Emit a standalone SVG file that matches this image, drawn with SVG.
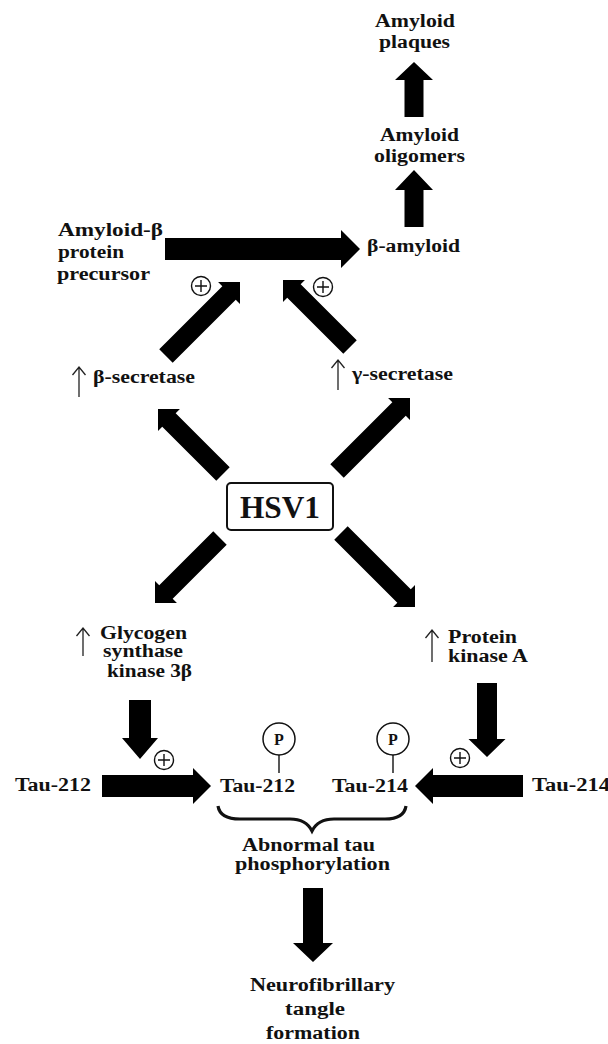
<svg xmlns="http://www.w3.org/2000/svg" width="608" height="1044" viewBox="0 0 608 1044">
<style>
.t{font-family:"Liberation Serif","Times New Roman",serif;font-weight:bold;font-size:18px;fill:#111}
.ar{fill:#000}
.pl{fill:#fff;stroke:#111;stroke-width:1.4}
.pc{fill:#fff;stroke:#111;stroke-width:1.5}
.ln{stroke:#111;stroke-width:1.4;fill:none}
.ua{stroke:#222;stroke-width:1.3;fill:none}
</style>
<rect width="608" height="1044" fill="#fff"/>
<defs>
<g id="plus"><circle r="9.5" class="pl"/><path d="M-6,0H6M0,-6V6" class="ln"/></g>
</defs>

<g id="connectors">
<path class="ar" transform="translate(414,62) rotate(-90)" d="M-55,-9.5L-18,-9.5L-18,-19L0,0L-18,19L-18,9.5L-55,9.5Z"/>
<path class="ar" transform="translate(414,170) rotate(-90)" d="M-57,-9.5L-20,-9.5L-20,-19L0,0L-20,19L-20,9.5L-57,9.5Z"/>
<path class="ar" transform="translate(360,249)" d="M-195,-11L-19,-11L-19,-19L0,0L-19,19L-19,11L-195,11Z"/>
<path class="ar" transform="translate(240,282) rotate(-45)" d="M-104.7,-9.5L-15.5,-9.5L-15.5,-15.5L0,0L-15.5,15.5L-15.5,9.5L-104.7,9.5Z"/>
<path class="ar" transform="translate(283,280) rotate(-135)" d="M-94.8,-9.5L-15.5,-9.5L-15.5,-15.5L0,0L-15.5,15.5L-15.5,9.5L-94.8,9.5Z"/>
<path class="ar" transform="translate(158,409) rotate(-135)" d="M-91.9,-9.5L-15.5,-9.5L-15.5,-15.5L0,0L-15.5,15.5L-15.5,9.5L-91.9,9.5Z"/>
<path class="ar" transform="translate(410,398) rotate(-45)" d="M-103.2,-9.5L-15.5,-9.5L-15.5,-15.5L0,0L-15.5,15.5L-15.5,9.5L-103.2,9.5Z"/>
<path class="ar" transform="translate(155,603) rotate(135)" d="M-91.9,-9.5L-15.5,-9.5L-15.5,-15.5L0,0L-15.5,15.5L-15.5,9.5L-91.9,9.5Z"/>
<path class="ar" transform="translate(415,607) rotate(45)" d="M-104.7,-9.5L-15.5,-9.5L-15.5,-15.5L0,0L-15.5,15.5L-15.5,9.5L-104.7,9.5Z"/>
<path class="ar" transform="translate(140,759) rotate(90)" d="M-59,-11L-21,-11L-21,-18L0,0L-21,18L-21,11L-59,11Z"/>
<path class="ar" transform="translate(211,786)" d="M-109,-11L-18,-11L-18,-18L0,0L-18,18L-18,11L-109,11Z"/>
<path class="ar" transform="translate(487,757) rotate(90)" d="M-74,-10L-18,-10L-18,-18.5L0,0L-18,18.5L-18,10L-74,10Z"/>
<path class="ar" transform="translate(415,786) rotate(180)" d="M-108,-11L-18,-11L-18,-18L0,0L-18,18L-18,11L-108,11Z"/>
<path class="ar" transform="translate(313,962) rotate(90)" d="M-74,-10L-19,-10L-19,-20L0,0L-19,20L-19,10L-74,10Z"/>
<path d="M218,806 Q220,819 240,819 L290,819 Q306,819 312,831 Q318,819 334,819 L385,819 Q404,819 406,806" fill="none" stroke="#111" stroke-width="3.2"/>
<use href="#plus" x="201" y="286"/>
<use href="#plus" x="323" y="287"/>
<use href="#plus" x="164" y="760"/>
<use href="#plus" x="460" y="758"/>
</g>

<g id="plaques"><text class="t" x="375" y="27" textLength="80" lengthAdjust="spacingAndGlyphs">Amyloid</text><text class="t" x="379" y="48" textLength="71" lengthAdjust="spacingAndGlyphs">plaques</text></g>
<g id="oligomers"><text class="t" x="380" y="141" textLength="79" lengthAdjust="spacingAndGlyphs">Amyloid</text><text class="t" x="374" y="162" textLength="91" lengthAdjust="spacingAndGlyphs">oligomers</text></g>
<g id="beta-amyloid"><text class="t" x="367" y="252" textLength="93" lengthAdjust="spacingAndGlyphs">β-amyloid</text></g>
<g id="app"><text class="t" x="58" y="236" textLength="105" lengthAdjust="spacingAndGlyphs">Amyloid-β</text><text class="t" x="58" y="258" textLength="66" lengthAdjust="spacingAndGlyphs">protein</text><text class="t" x="57" y="280" textLength="93" lengthAdjust="spacingAndGlyphs">precursor</text></g>
<g id="beta-secretase"><path class="ua" d="M79,397V367M72.5,375L79,367L85.5,375"/><text class="t" x="93" y="383" textLength="102" lengthAdjust="spacingAndGlyphs">β-secretase</text></g>
<g id="gamma-secretase"><path class="ua" d="M338,390V360M331.5,368L338,360L344.5,368"/><text class="t" x="352" y="380" textLength="101" lengthAdjust="spacingAndGlyphs">γ-secretase</text></g>
<g id="hsv1"><rect x="227" y="483" width="106" height="47" rx="4" fill="#fff" stroke="#111" stroke-width="2"/><text class="t" x="240" y="518" style="font-size:32px" textLength="80" lengthAdjust="spacingAndGlyphs">HSV1</text></g>
<g id="gsk"><path class="ua" d="M83,656V628M76.5,636L83,628L89.5,636"/><text class="t" x="100" y="639" textLength="87" lengthAdjust="spacingAndGlyphs">Glycogen</text><text class="t" x="103" y="657" textLength="80" lengthAdjust="spacingAndGlyphs">synthase</text><text class="t" x="107" y="677" textLength="85" lengthAdjust="spacingAndGlyphs">kinase 3β</text></g>
<g id="pka"><path class="ua" d="M432,662V630M425.5,638L432,630L438.5,638"/><text class="t" x="448" y="643" textLength="69" lengthAdjust="spacingAndGlyphs">Protein</text><text class="t" x="448" y="662" textLength="80" lengthAdjust="spacingAndGlyphs">kinase A</text></g>
<g id="tau212-left"><text class="t" x="15" y="791" textLength="76" lengthAdjust="spacingAndGlyphs">Tau-212</text></g>
<g id="tau212-p"><circle cx="279" cy="739" r="16" class="pc"/><text class="t" x="279" y="745" text-anchor="middle" style="font-size:16px">P</text><line x1="279" y1="755" x2="279" y2="773" class="ln"/><text class="t" x="220" y="792" textLength="75" lengthAdjust="spacingAndGlyphs">Tau-212</text></g>
<g id="tau214-p"><circle cx="393" cy="739" r="16" class="pc"/><text class="t" x="393" y="745" text-anchor="middle" style="font-size:16px">P</text><line x1="393" y1="755" x2="393" y2="773" class="ln"/><text class="t" x="332" y="792" textLength="76" lengthAdjust="spacingAndGlyphs">Tau-214</text></g>
<g id="tau214-right"><text class="t" x="532" y="791" textLength="78" lengthAdjust="spacingAndGlyphs">Tau-214</text></g>
<g id="abnormal"><text class="t" x="242" y="851" textLength="133" lengthAdjust="spacingAndGlyphs">Abnormal tau</text><text class="t" x="235" y="870" textLength="155" lengthAdjust="spacingAndGlyphs">phosphorylation</text></g>
<g id="nft"><text class="t" x="250" y="991" textLength="145" lengthAdjust="spacingAndGlyphs">Neurofibrillary</text><text class="t" x="285" y="1015" textLength="60" lengthAdjust="spacingAndGlyphs">tangle</text><text class="t" x="266" y="1039" textLength="94" lengthAdjust="spacingAndGlyphs">formation</text></g>
</svg>
